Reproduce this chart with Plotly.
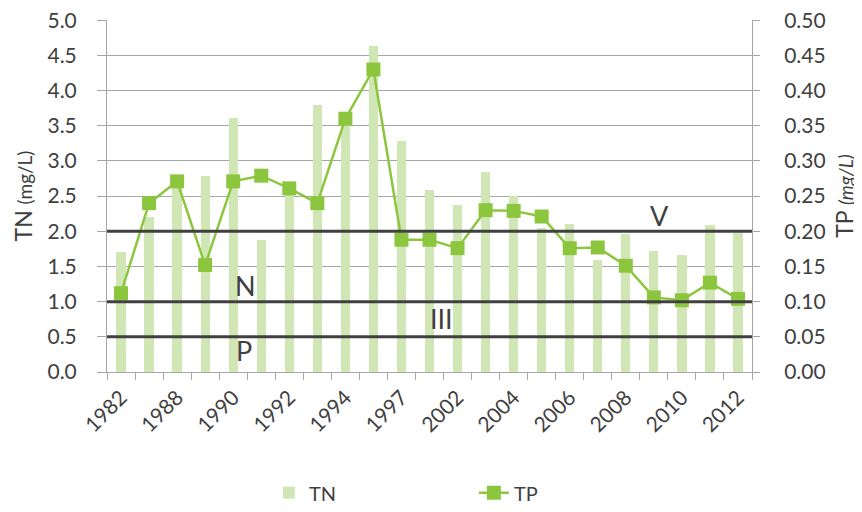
import plotly.graph_objects as go

# categories (only every other year is labelled on the axis)
years = ["1982", "1987", "1988", "1989", "1990", "1991", "1992", "1993", "1994", "1995",
         "1997", "2001", "2002", "2003", "2004", "2005", "2006", "2007", "2008", "2009",
         "2010", "2011", "2012"]
year_labels = [y if i % 2 == 0 else "" for i, y in enumerate(years)]

tn = [1.71, 2.21, 2.72, 2.78, 3.61, 1.87, 2.55, 3.79, 3.60, 4.63, 3.28, 2.58,
      2.37, 2.84, 2.50, 2.05, 2.10, 1.59, 1.96, 1.72, 1.66, 2.09, 1.98]
tp = [0.112, 0.240, 0.271, 0.152, 0.271, 0.279, 0.261, 0.240, 0.360, 0.430, 0.188, 0.188,
      0.176, 0.230, 0.229, 0.221, 0.176, 0.177, 0.151, 0.106, 0.102, 0.127, 0.104]

# water quality class limits on the TN axis
limits = [2.0, 1.0, 0.5]
# class labels: (text, category position, TN value)
class_labels = [("V", 19.2, 2.23), ("N", 4.43, 1.23), ("III", 11.43, 0.76), ("P", 4.4, 0.31)]

font = "Lato, Open Sans, sans-serif"
dark = "#404040"
grid = "#a6a6a6"

fig = go.Figure()

fig.add_trace(go.Bar(
    x=years, y=tn, name="TN", width=0.33,
    marker=dict(color="#d1e6b5", line=dict(width=0)),
    xaxis="x", yaxis="y",
))

# limit lines drawn over the bars but under the TP line
for v in limits:
    fig.add_trace(go.Scatter(
        x=[0, 1], y=[v, v], mode="lines", showlegend=False, hoverinfo="skip",
        line=dict(color=dark, width=3), xaxis="x2", yaxis="y",
    ))

fig.add_trace(go.Scatter(
    x=years, y=tp, name="TP", mode="lines+markers",
    line=dict(color="#8cc63f", width=2.5),
    marker=dict(symbol="square", size=14, color="#8cc63f"),
    xaxis="x", yaxis="y2",
))

for text, xpos, ypos in class_labels:
    fig.add_annotation(x=xpos, y=ypos, xref="x", yref="y", text=text, showarrow=False,
                       font=dict(family=font, size=27, color=dark))

fig.update_layout(
    width=862, height=512,
    margin=dict(l=99, r=118, t=12, b=148),
    plot_bgcolor="white", paper_bgcolor="white",
    font=dict(family=font, size=21, color=dark),
    bargap=0,
    xaxis=dict(
        type="category", tickmode="array", tickvals=years, ticktext=year_labels,
        tickangle=-45, tickson="boundaries", ticks="outside", ticklen=7,
        tickcolor=grid, showline=True, linecolor=grid, linewidth=1,
        showgrid=False, tickfont=dict(size=21), range=[-0.5, len(years) - 0.5],
        automargin=False, ticklabelstandoff=4,
    ),
    xaxis2=dict(overlaying="x", range=[0, 1], visible=False, fixedrange=True),
    yaxis=dict(
        range=[0, 5.003], tickmode="linear", tick0=0, dtick=0.5, tickformat=".1f",
        showgrid=True, gridcolor=grid, gridwidth=1,
        showline=True, linecolor=grid, ticks="outside", ticklen=9, tickcolor=grid,
        zeroline=False, automargin=False, ticklabelstandoff=16, ticklabeloverflow="allow",
        title=dict(text="TN <span style='font-size:19px'>(mg/L)</span>", font=dict(size=23), standoff=8),
    ),
    yaxis2=dict(
        range=[0, 0.5003], tickmode="linear", tick0=0, dtick=0.05, tickformat=".2f",
        overlaying="y", side="right",
        showgrid=False, showline=True, linecolor=grid, ticks="outside", ticklen=7,
        tickcolor=grid, zeroline=False, automargin=False, ticklabelstandoff=20,
        ticklabeloverflow="allow",
        title=dict(text="TP <span style='font-size:19px'><i>(mg/L)</i></span>", font=dict(size=23), standoff=12),
    ),
    legend=dict(
        orientation="h", x=0.251, xanchor="left", y=0.053, yanchor="middle", yref="container",
        font=dict(size=20), entrywidth=160, entrywidthmode="pixels",
    ),
)

fig.write_html("out.html")
